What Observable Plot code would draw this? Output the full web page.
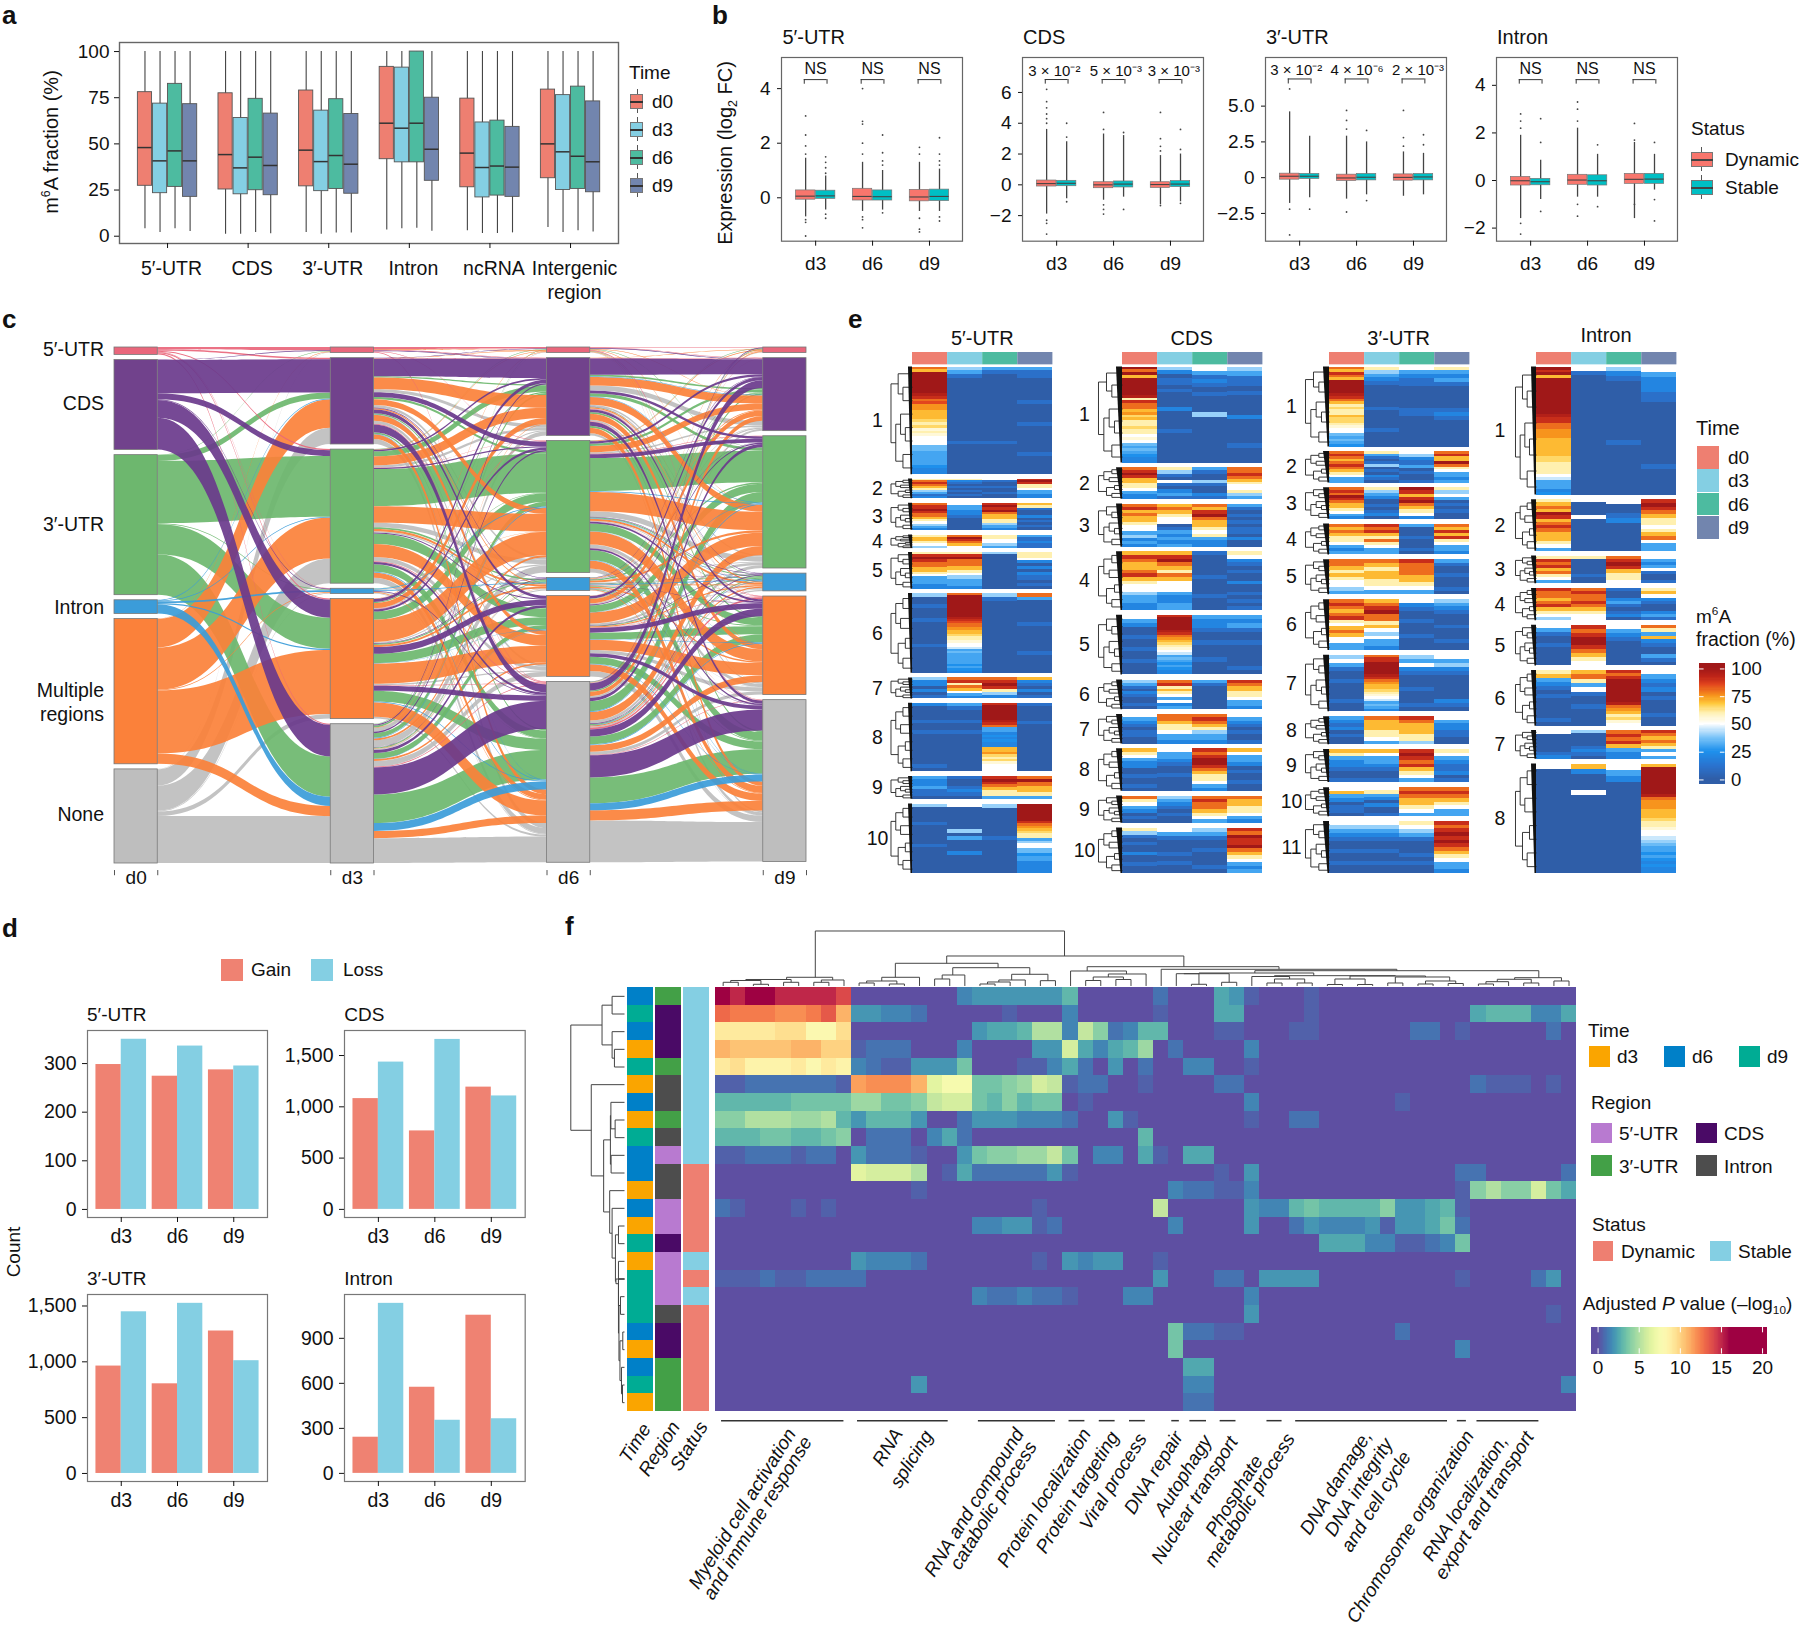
<!DOCTYPE html>
<html><head><meta charset="utf-8">
<script src="https://cdn.jsdelivr.net/npm/d3@7"></script>
<script src="https://cdn.jsdelivr.net/npm/@observablehq/plot@0.6"></script>
<style>
html,body{margin:0;padding:0;background:#fff}
#root{position:relative;width:1800px;height:1628px;overflow:hidden;font-family:"Liberation Sans",Arial,sans-serif;color:#111}
#root svg{position:absolute;background:none;max-width:none}
.t{position:absolute;white-space:nowrap;line-height:1}
sup,sub{font-size:62%;line-height:0}
</style></head><body><div id="root"></div>
<script>
// ---------- panel a: [q1, median, q3, whisker low, whisker high] for d0,d3,d6,d9
const aRegions=["5′-UTR","CDS","3′-UTR","Intron","ncRNA","Intergenic\nregion"];
const aTimes=["d0","d3","d6","d9"];
const a5UTR=[[27.3,48,78,4,100],[23.3,40.8,71.8,2,100],[26.7,46.2,82.5,4,100],[21.3,40.8,71.5,2.5,100]];
const aCDS=[[25.3,44.2,77.4,1,100],[22.7,37,64,1,100],[24.9,42.8,74.4,2,100],[22.2,38.3,66.4,1.3,100]];
const a3UTR=[[27,46.6,78.9,2,100],[24.4,40.4,68,1,100],[25.6,43.7,74.2,1.8,100],[23,39,66.2,1.8,100]];
const aIntron=[[41.7,61.2,91.7,3.4,100],[40,58.5,91.3,4,100],[40,61.2,100,4.3,100],[30,47.1,75,2.7,100]];
const aNcRNA=[[26.5,45,74.5,3,100],[21,37.2,61.6,1.4,100],[22,38,62.6,1.4,100],[21.3,37.4,59.2,1.8,100]];
const aInter=[[31.4,50,79.4,4.7,100],[25,45.7,76.4,2,100],[25.6,43.3,81,2.9,100],[23.8,40.3,73,2.3,100]];
const timeColors={d0:"#EE7F71",d3:"#84CFE3",d6:"#4DBBA0",d9:"#7285AE"};

// ---------- panel b: [q1, median, q3, dense low, dense high, sparse outliers] for d3 Dyn, d3 Sta, d6 Dyn, d6 Sta, d9 Dyn, d9 Sta
const bDays=["d3","d6","d9"];
const b5UTR=[[-.07,.06,.27,-.7,1.45,[1.6,1.9,2.3,3,-.8,-.9,-1.4]],[-.04,.07,.26,-.45,.8,[.9,1.1,1.3,1.5,-.6,-.75]],
 [-.1,.05,.33,-.5,1.3,[1.6,2,2.7,2.8,4,-.7,-.8,-1.1]],[-.1,.04,.27,-.45,1.0,[1.2,1.35,1.65,2.3,-.55]],
 [-.13,.03,.29,-.5,1.3,[1.6,1.85,-.75,-1.15,-1.25]],[-.12,.05,.3,-.5,1.05,[1.2,1.35,1.6,2.2,-.7,-.85]]];
const bCDS=[[-.11,.08,.28,-1.9,3.6,[4,4.3,4.6,5,5.4,6.2,-2.3,-2.5,-3.2]],[-.09,.1,.26,-.9,2.8,[3.1,4,-1.1]],
 [-.22,0,.17,-1,3.3,[3.6,4.7,-1.3,-1.6,-1.9]],[-.17,.05,.22,-.8,3.2,[3.4,-1.6]],
 [-.2,.02,.17,-1.3,1.9,[2.2,2.5,3,4.7,-1.35]],[-.15,.05,.24,-1.1,2,[2.3,3.6,-1.2]]];
const b3UTR=[[-.14,.1,.28,-1.8,4.6,[6.2,-2.2,-4]],[-.09,.1,.26,-1.4,2.9,[-2.2]],
 [-.23,-.02,.21,-1.5,2.9,[3.4,4,4.7,-2.4]],[-.19,.03,.26,-1.2,2.5,[3.3,-1.6]],
 [-.21,.02,.23,-1.3,1.8,[2.2,2.8,4.7]],[-.19,.05,.26,-1.2,1.7,[2.3,3]]];
const bIntron=[[-.21,-.01,.15,-1.6,1.9,[2.2,2.5,2.8,-1.8,-2.25]],[-.2,-.05,.07,-.8,.85,[1.6,2.6,-1.3]],
 [-.18,.02,.24,-.7,2.2,[2.5,3,3.3,-1,-1.5]],[-.21,-.01,.22,-.7,1.1,[1.5,-1.1]],
 [-.14,.05,.28,-1.6,1.6,[1.7,2.4,-1]],[-.14,.06,.28,-.4,1.1,[1.6,-.8,-1.7]]];
const bLabelsCDS=["3 × 10⁻²","5 × 10⁻³","3 × 10⁻³"], bLabels3UTR=["3 × 10⁻²","4 × 10⁻⁶","2 × 10⁻³"], bLabelsNS=["NS","NS","NS"];

// ---------- panel c: node sizes top to bottom for 5'-UTR, CDS, 3'-UTR, Intron, Multiple, None
const cNodesD0=[20,243,378,37,392,254], cNodesD3=[15,233,362,14,324,376], cNodesD6=[15,210,356,35,218,488], cNodesD9=[15,197,357,48,266,437];
const cColors=["#E9667B","#6A3A8C","#6DB76E","#3B9CD9","#FB813A","#BEBEBE"];
const cNodeColors=["#E9667B","#71428C","#6DB76E","#3B9CD9","#FB813A","#BEBEBE"];
// d0 -> d3, rows from, columns to
const cFlow03=[[6,4,3,1,3,3],[1,90,16,2,48,86],[1,16,168,2,82,109],[0,2,2,5,3,25],[1,77,114,2,170,28],[1,44,68,2,12,127]];
// d3 -> d6, one table for each d0 origin
const cFlow36=[
 [[3,1,1,0,0,1],[0,1,0,0,0,2],[0,0,1,0,0,2],[0,0,0,0,0,0],[0,0,1,0,0,1],[0,0,0,0,0,2]],
 [[0,1,0,0,0,0],[1,45,12,2,10,20],[0,4,3,0,3,6],[0,0,0,0,0,2],[0,8,6,2,18,14],[0,3,4,1,8,72]],
 [[0,0,0,0,0,0],[0,3,6,0,3,4],[1,14,100,5,28,20],[0,0,1,0,0,1],[0,3,22,3,25,29],[1,5,12,3,15,76]],
 [[0,0,0,0,0,0],[0,0,0,0,1,1],[0,0,0,0,0,2],[0,0,2,3,0,0],[0,0,0,0,1,2],[0,0,2,0,1,21]],
 [[1,0,0,0,0,0],[1,30,15,3,15,12],[1,24,45,6,35,14],[0,0,1,0,0,2],[1,14,60,6,55,39],[0,1,5,1,5,19]],
 [[0,0,0,0,0,0],[0,8,6,0,8,13],[0,6,12,3,12,15],[0,0,0,0,0,2],[0,2,3,0,4,5],[1,10,18,3,15,66]]];
// d6 -> d9, one table for each d0 origin
const cFlow69=[
 [[1,1,0,0,1,0],[0,1,0,0,1,1],[0,0,1,0,1,1],[0,0,0,0,0,0],[0,0,1,0,1,0],[0,1,0,0,5,1]],
 [[0,1,0,0,0,0],[0,38,6,1,6,9],[0,6,10,1,4,4],[0,1,1,1,1,1],[0,8,3,1,15,12],[1,20,9,2,20,62]],
 [[0,0,1,0,1,0],[0,4,8,1,4,5],[1,6,85,3,20,26],[0,1,4,2,2,2],[0,2,22,2,22,23],[1,4,28,3,22,72]],
 [[0,0,0,0,0,0],[0,1,1,0,0,0],[0,0,2,1,1,1],[0,0,0,2,0,1],[0,0,1,0,1,1],[0,0,2,1,2,20]],
 [[0,1,1,0,1,0],[1,20,18,3,14,13],[1,16,50,5,33,21],[0,2,6,2,4,2],[1,14,36,3,34,22],[1,12,24,3,18,28]],
 [[0,0,0,0,1,0],[0,12,4,1,4,5],[0,4,14,2,9,10],[0,1,2,1,1,1],[0,3,7,1,10,18],[1,5,8,3,9,117]]];
const cDays=["d0","d3","d6","d9"];

// ---------- panel d: gain and loss counts at d3,d6,d9
const dGain5=[298,274,287], dLoss5=[350,336,295];
const dGainC=[1080,765,1192], dLossC=[1436,1657,1106];
const dGain3=[962,803,1276], dLoss3=[1448,1524,1010];
const dGainI=[241,574,1054], dLossI=[1133,354,364];

// ---------- panel e: clusters [top, bottom, d0, d3, d6, d9]; a character is the m6A level in steps of 5, see eLevels, one per row
const eLevels="0A1B2C3D4E5F6G7H8I9Ja";
const e5UTR=[
[128,424,"87aaaaaaaJ98IHH777G6GF6F555DD33333C22","43100000000000000000100000000","31000000000000000000100000000","31100000010000010000000100000"],
[436,490,"6898764312","6210101010","5100100100","9a96653322"],
[503,577,"899a988765432","53322100000","9a9a87766432","76100201010"],
[590,627,"677654","8a9875","665543","311211"],
[638,739,"69a988776533322","69a8887765443332","400000000000000","6652020211010"],
[751,970,"4001000100000010000000","8aaaaaaaaaaJ9I88H77G66F55E3D33333C3C2","4100000000000000000","8300000010000000100000"],
[983,1041,"4220201","89687532","89a9642","7210201"],
[1053,1241,"20000100100000000010","31000100100000000000","9aaaaaaJ98332C2C2277HG6GF555","1000010000000000000"],
[1254,1317,"3223110","1001210","9a987663","8a87763"],
[1330,1521,"4000010000010000000","5000000403000200000","40000000100000000","aaaaaaa98H7G663455DDC3322222"]];
const eCDS=[
[128,392,"a8a7aaaaaaJ69887HG766G665F5D3D3C22","42011010000200000100000000","53121010000400000000000","43110100002000001000"],
[405,492,"89a977665322","6410510231","3100410021","88987655643"],
[505,624,"89787765534232","7876550132323","879a877656322","3101010110200"],
[636,798,"7987789765543322","79a8768755532233","100000100001000","6521010020010101"],
[811,975,"532001001001000","9aaaaaJ98H7G6F5E3D3C3C22","32210010001000","32310010000010"],
[989,1071,"4310210010","8967653523","310000000","9877665332"],
[1084,1165,"532101100","887665332","898764332","532101001"],
[1178,1295,"7653220010010","533210010000","989aa98766532","753320100100"],
[1308,1383,"86532010","43210100","89887653","87766532"],
[1396,1521,"6410100200100","53100010100","43100100010","98a99a8765323"]];
const e3UTR=[
[128,348,"87987aaaaaJ9876G667GG6F55D3D3C","6432100000010000010000","532110000001100000000","632310000001210000000"],
[360,447,"898789876533","631014010210","54211301001","8977a8653323"],
[460,547,"898a98776532","64320010120","a979a87652","6453010100"],
[560,645,"8787665323","9897686533","3000100010","8797965332"],
[658,754,"8876765543","876776653","988877653","3100100010"],
[768,908,"898789657875533","789a8867545332","5210010001000","43210001000100"],
[921,1076,"45310010000100","899aaaaaJ98H77G6F5E3D32","43521000100010","53421000000210"],
[1090,1167,"32120100","87776653","98777664","53221100"],
[1180,1271,"763221001","753321001","9a9897653","653211201"],
[1285,1365,"57320110","563202001","89877653","89876533"],
[1378,1521,"5432100100100","5432100100100","6543100010100","989a9a98765332"]];
const eIntron=[
[128,480,"a9a7aaaaaaaaaaaaJ9988HHH777777GG66665E3332C","51000000000000000000000000000","42100000000000010000000000","5322211000000000000100000"],
[493,635,"6787a97898777653","5000050000000000","50012000000","9a987665678533"],
[648,724,"698978653","600000100","89a97665","532351001"],
[737,826,"9887897654","8988987655","1002310120","6752100231"],
[838,950,"53100100000","989aa98765","5321000000","86372100310"],
[963,1116,"67321010000010","7863510010000","989aaaaaaaaJ8H76GF5","5321201000100"],
[1128,1207,"50000012","400001210","89897322","987876353"],
[1220,1521,"500000000000000000000","720005000000000000000","532000000000000000","7aaaaaaaaaJ8HHH777G66F55E4D33C3C2C22"]];
const eClusterLists=[e5UTR,eCDS,e3UTR,eIntron];
const eTitles=["5′-UTR","CDS","3′-UTR","Intron"];
// cluster dendrogram shapes: [depth, child, child], a number is a leaf slot
const eTreeA=[9,[6,0,[4,1,2]],[7,[5,3,[3,4,5]],[4,6,7]]];
const eTreeB=[9,[7,[4,0,1],[5,2,3]],[6,[3,4,5],[4,6,7]]];
const eColorDomain=[0,12,25,37,50,60,68,75,85,92,100];
const eColorRange=["#2F5EA8","#2A73CF","#1E90EC","#79C3F8","#FFFFFF","#FFF0B0","#FFC93C","#F7941D","#E2461E","#BE2418","#A01818"];

// ---------- panel f: 24 rows by 57 columns, base-36 character = 2 x (-log10 adjusted P)
const fRows=[
"wuwwuuuus0 0000003444 4446000002 0005410001 0000000000 0000000",
"qpppooprm4 4332000001 0003000001 0005500001 0000000000 5666335",
"iiiijjggj0 0000000455 6aa3b82366 0001100011 0000002201 0000020",
"mllllmmkk1 2220003000 044c535690 2000030000 0000000000 0000000",
"ijhhhigih3 2114447000 1135204020 0330010000 0000000000 0000000",
"112222221n ooomdff778 9cb1220010 0002200000 0000000000 2111010",
"6666677779 9778bcc768 6770100000 0000030000 0000010000 0000000",
"88aaa99a64 6664002444 3332004100 0000010022 0000000000 0000000",
"6667766780 2220352000 0000000060 0000000000 0000000000 0000000",
"1122212204 2221004788 99b7033051 0550000000 0000000000 0000000",
"000000000d ccca015222 2241000000 0001040000 0000000002 2000002",
"0000000000 0001000000 0000000000 3221130000 0000000001 8a88c75",
"2100010100 0000000000 010000000b 0000043367 6666844561 0000000",
"0000000000 0000000334 4120000000 3000040024 3334144572 0000000",
"0000000000 0000000000 0000000000 0000000000 5553311237 0000000",
"0000000004 3332000000 0104344001 0000000000 0000000000 0000000",
"1112112222 0000000000 0000000004 0002204444 0000000001 0000240",
"0000000000 0000000322 3221000330 0000030000 0000000000 0000000",
"0000000000 0000000000 0000000000 0000040000 0000000000 0000010",
"0000000000 0000000000 0000000000 7221100000 0000020000 0000000",
"0000000000 0000000000 0000000000 7000000000 0000000003 0000000",
"0000000000 0000000000 0000000000 0550000000 0000000000 0000000",
"0000000000 0004000000 0000000000 0330000000 0000000000 0000003",
"0000000000 0000000000 0000000000 0220000000 0000000000 0000000"];
const fTime=["d6","d9","d6","d3","d9","d3","d6","d3","d9","d6","d6","d3","d6","d3","d9","d3","d9","d9","d9","d6","d3","d6","d9","d3"];
const fRegion=["3′","CDS","CDS","CDS","3′","Intron","Intron","3′","Intron","5′","Intron","Intron","5′","5′","CDS","5′","5′","5′","Intron","CDS","CDS","3′","3′","3′"];
const fStatus=["S","S","S","S","S","S","S","S","S","S","D","D","D","D","D","S","D","S","D","D","D","D","D","D"];
const fTimeColors={d3:"#FAA500",d6:"#0080C8",d9:"#00AC94"};
const fRegionColors={"5′":"#B87AD0","CDS":"#4A0A66","3′":"#43A047","Intron":"#4D4D4D"};
const fStatusColors={D:"#EE7F71",S:"#84CFE3"};
// dendrograms: [height, child, child, optional position]; a number is a column or a row
const fTopA=[8.7,[6.5,[5.5,[3.7,0,1],[1.7,2,3]],[3.7,4,5],4.7],[6,[3.7,6,7],8],6.6];
const fTopB=[22.7,
 [8.7,[5,[3,9,10],[2,11,12]],13,11.9],
 [18.3,[11,[7,14,15],16,15.7],[11.7,[6,[4,[2,17,18],19],20,19.6],[5.3,21,22],20.8],18.7],15.3];
const fTopC1=[15,23,[12,[9,[5.5,24,25],[6.5,26,27]],28,27.2],24.6];
const fTopC4=[13,
 [12.3,[12.29,30,[1.7,31,32],31],[3.7,33,34],32],
 [10.3,[9.5,35,[7,[3,36,37],[3,38,39]],37],[10,[7,[1.5,40,41],[1.5,42,43],42],[9,[3,44,45],[5,[2,46,47],[2.5,48,49],48.6],47],45],39.6],35.7];
const fTopC5=[8.3,[6.7,[4.3,[2,50,51],52],[3,53,54],52.9],[5,55,56],54.5];
const fTopTree=[55,fTopA,[30,fTopB,[19.3,fTopC1,[16.7,29,[15.3,fTopC4,fTopC5,45.1],37.3],31],23.1],26];
const fLeftTree=[53.3,[22.3,[12.3,0,1],[12.3,2,[10,3,4]]],
 [33,5,[20.7,
   [14,[13.5,6,[9.3,7,8]],[13.3,9,10]],
   [14.7,11,[12.3,12,[9,[6,13,14],[8.5,[6,15,[6,16,[5.5,[4,17,18],[4.5,[1.7,19,20],[3,21,[2,22,23]]]]]],[5.9,16,16]]]]]]]];
// term groups: first column, last column
const fGroups=[[.4,8.5],[9.4,15.4],[17.4,22.5],[23.4,24.45],[25.4,26.45],[27.4,28.45],[30.2,30.7],[31.4,32.5],[33.4,34.45],[36.5,37.5],[38.4,48.45],[49.1,49.7],[50.4,54.5]];

// ---------- helpers
const root=document.getElementById("root");
const FONT='"Liberation Sans",Arial,sans-serif';
function T(x,y,html,o={}){
 const {size=19,anchor="start",weight=400,rot=0,italic=false}=o;
 const d=document.createElement("div");d.className="t";d.innerHTML=html;
 const ax=anchor==="end"?"-100%":anchor==="middle"?"-50%":"0";
 const ox=anchor==="end"?"100%":anchor==="middle"?"50%":"0";
 d.style.cssText=`left:${x}px;top:${y}px;font-size:${size}px;font-weight:${weight};font-style:${italic?"italic":"normal"};transform-origin:${ox} 50%;transform:translate(${ax},-50%) rotate(${rot}deg)`;
 root.appendChild(d);
}
function box(x,y,w,h,bg,extra=""){const d=document.createElement("div");d.style.cssText=`position:absolute;left:${x}px;top:${y}px;width:${w}px;height:${h}px;background:${bg};box-sizing:border-box;${extra}`;root.appendChild(d);}
function P(x,y,w,h,opt){
 const {ml=0,mr=0,mt=0,mb=0,...rest}=opt;
 const p=Plot.plot({width:w+ml+mr,height:h+mt+mb,marginLeft:ml,marginRight:mr,marginTop:mt,marginBottom:mb,
   style:{fontFamily:FONT,background:"none",overflow:"visible"},...rest});
 p.style.left=(x-ml)+"px";p.style.top=(y-mt)+"px";root.appendChild(p);return p;
}
function tree(node,pos,segs){
 if(typeof node==="number")return {p:pos(node),h:0};
 const [h,a,b,fixed]=node,A=tree(a,pos,segs),B=tree(b,pos,segs);
 segs.push({p1:A.p,h1:A.h,p2:A.p,h2:h},{p1:B.p,h1:B.h,p2:B.p,h2:h},{p1:A.p,h1:h,p2:B.p,h2:h});
 return {p:fixed===undefined?(A.p+B.p)/2:fixed,h};
}
const grey="#666";

// ---------- panel letters
[["a",2,15],["b",712,15],["c",2,319],["d",2,928],["e",848,319],["f",565,926]].forEach(([s,x,y])=>T(x,y,s,{size:26,weight:700}));

// ---------- panel a
{
 const lists=[a5UTR,aCDS,a3UTR,aIntron,aNcRNA,aInter],off=[-.28,-.093,.093,.28],rows=[];
 lists.forEach((l,g)=>l.forEach((v,t)=>rows.push({c:g+off[t],q1:v[0],m:v[1],q3:v[2],lo:v[3],hi:v[4],f:timeColors[aTimes[t]]})));
 const groups=[0,1,2,3,4,5];
 P(119,42,499,201,{ml:60,mb:60,mt:2,mr:4,
  x:{domain:[-.596,5.595]},y:{domain:[-3.95,104.9]},
  marks:[
   Plot.frame({stroke:grey,strokeWidth:1.4}),
   Plot.axisX({ticks:groups,tickFormat:()=>"",tickSize:5,label:null}),
   Plot.text(groups,{x:d=>d,frameAnchor:"bottom",lineAnchor:"top",dy:15,dx:4,text:d=>aRegions[d],fontSize:19.5,lineHeight:1.22,fill:"#111"}),
   Plot.axisY({ticks:[0,25,50,75,100],tickSize:5,tickPadding:5,fontSize:19,label:null}),
   Plot.ruleX(rows,{x:"c",y1:"lo",y2:"hi",stroke:"#444",strokeWidth:1.1}),
   Plot.rect(rows,{x1:d=>d.c-.088,x2:d=>d.c+.088,y1:"q1",y2:"q3",fill:"f",stroke:"#555",strokeWidth:.9}),
   Plot.ruleY(rows,{y:"m",x1:d=>d.c-.088,x2:d=>d.c+.088,stroke:"#333",strokeWidth:1.5})
  ]});
 T(51,142,"m<sup>6</sup>A fraction (%)",{anchor:"middle",rot:-90,size:20});
 T(629,72,"Time");
 aTimes.forEach((t,i)=>{const y=101+i*28;
  box(636.5,y-12,1,24,"#555");box(630,y-7,13,15,timeColors[t],"border:1px solid #777");box(630,y,13,1.5,"#333");
  T(652,y,t);});
}
// ---------- panel b
{
 const lists=[b5UTR,bCDS,b3UTR,bIntron];
 const frames=[[781.4,"5′-UTR",[-1.59,5.14],[0,2,4],bLabelsNS,[4.74,4.33,4.16],[0,0,0],16],
  [1022,"CDS",[-3.66,8.27],[-2,0,2,4,6],bLabelsCDS,[7.4,6.84,6.54],[-.04,.04,.06],15],
  [1265,"3′-UTR",[-4.44,8.4],[-2.5,0,2.5,5],bLabels3UTR,[7.5,6.9,6.55],[-.06,.01,.08],15],
  [1496,"Intron",[-2.55,5.17],[-2,0,2,4],bLabelsNS,[4.7,4.24,4.05],[0,0,0],16]];
 frames.forEach(([x,title,dom,ticks,labs,[ty,b1,b0],shift,labSize],k)=>{
  const rows=lists[k].map((v,i)=>{const day=Math.floor(i/2),dyn=i%2===0;return {c:day+(dyn?-.176:.176),day,dyn,q1:v[0],m:v[1],q3:v[2],lo:v[3],hi:v[4],out:v[5]};});
  const pts=rows.flatMap(r=>r.out.map(o=>({c:r.c,v:o})));
  const days=[0,1,2];
  P(x,57,181,183.7,{ml:60,mb:50,mt:2,mr:4,
   x:{domain:[-.6,2.58]},y:{domain:dom},
   marks:[
    Plot.frame({stroke:grey,strokeWidth:1.2}),
    Plot.axisX({ticks:days,tickFormat:i=>bDays[i],tickSize:5,tickPadding:10,fontSize:19,label:null}),
    Plot.axisY({ticks,tickFormat:k===2?(d=>d===0?"0":(d<0?"−":"")+Math.abs(d).toFixed(1)):(d=>(d<0?"−":"")+Math.abs(d)),tickSize:4,tickPadding:7,fontSize:19,label:null}),
    Plot.ruleX(rows,{x:"c",y1:"lo",y2:"hi",stroke:"#444",strokeWidth:1.3}),
    Plot.dot(pts,{x:"c",y:"v",r:.9,fill:"#444",stroke:"none"}),
    Plot.rect(rows,{x1:d=>d.c-.17,x2:d=>d.c+.17,y1:"q1",y2:"q3",fill:d=>d.dyn?"#F8766D":"#00BFC4",stroke:"#777",strokeWidth:.7}),
    Plot.ruleY(rows,{y:"m",x1:d=>d.c-.17,x2:d=>d.c+.17,stroke:"#444",strokeWidth:1.1}),
    Plot.ruleY(days,{y:b1,x1:d=>d-.2,x2:d=>d+.2,stroke:"#333",strokeWidth:1}),
    Plot.ruleX(days,{x:d=>d-.2,y1:b0,y2:b1,stroke:"#333",strokeWidth:1}),
    Plot.ruleX(days,{x:d=>d+.2,y1:b0,y2:b1,stroke:"#333",strokeWidth:1}),
    Plot.text(days,{x:d=>d+shift[d],y:ty,text:d=>labs[d],fontSize:labSize,fill:"#111"})
   ]});
  T(x+1,37,title,{size:20});
 });
 T(725,153,"Expression (log<sub>2</sub> FC)",{anchor:"middle",rot:-90,size:20});
 T(1691,128,"Status",{size:19});
 [["Dynamic","#F8766D",159],["Stable","#00BFC4",187]].forEach(([s,c,y])=>{
  box(1701,y-12,1,24,"#555");box(1691,y-7,22,15,c,"border:1px solid #777");box(1691,y,22,1.5,"#444");T(1725,y,s,{size:19});});
}
// ---------- panel c
{
 const nodes=[cNodesD0,cNodesD3,cNodesD6,cNodesD9],gap=13.8,tops=nodes.map(n=>{let y=0;return n.map(v=>{const t=y;y+=v+gap;return t;});});
 const sub=.1,order=[0,1,2,3,4,5];
 const flows=[];
 const add=(col,c,L,R,v)=>{if(v>0)flows.push({col,c,L,R,v,id:flows.length});};
 cFlow03.forEach((row,L)=>row.forEach((v,R)=>add(0,L,L,R,v)));
 cFlow36.forEach((t,c)=>t.forEach((row,L)=>row.forEach((v,R)=>add(1,c,L,R,v))));
 cFlow69.forEach((t,c)=>t.forEach((row,L)=>row.forEach((v,R)=>add(2,c,L,R,v))));
 // stack the ribbons inside each stratum, scaled so that they fill it
 [0,1,2].forEach(col=>{
  const fs=flows.filter(f=>f.col===col);
  order.forEach(n=>{
   const out=fs.filter(f=>f.L===n).sort((a,b)=>a.R-b.R||a.c-b.c);
   const si=d3.sum(out,f=>f.v);let y=tops[col][n];
   out.forEach(f=>{f.a1=y;y+=f.v/si*nodes[col][n];f.a2=y;});
   const inc=fs.filter(f=>f.R===n).sort((a,b)=>a.c-b.c||a.L-b.L);
   const sj=d3.sum(inc,f=>f.v);y=tops[col+1][n];
   inc.forEach(f=>{f.b1=y;y+=f.v/sj*nodes[col+1][n];f.b2=y;});
  });
 });
 const drawOrder=[5,2,4,3,0,1];
 const sorted=drawOrder.flatMap(c=>flows.filter(f=>f.c===c));
 const pts=sorted.flatMap(f=>[{x:f.col+sub,y1:f.a1,y2:f.a2,id:f.id,fill:cColors[f.c]},{x:f.col+1-sub,y1:f.b1,y2:f.b2,id:f.id,fill:cColors[f.c]}]);
 const rects=nodes.flatMap((n,i)=>n.map((v,j)=>({i,y1:tops[i][j],y2:tops[i][j]+v,fill:cNodeColors[j]})));
 const cols=[0,1,2,3],edges=cols.flatMap(i=>[i-sub,i+sub]);
 P(114.4,347,692,516,{mb:34,mt:2,mr:2,ml:2,
  x:{domain:[-sub,3+sub]},y:{domain:[0,1393],reverse:false,range:[2,518],axis:null},
  marks:[
   Plot.area(pts,{x1:"x",x2:"x",y1:"y1",y2:"y2",z:"id",fill:"fill",curve:"bump-x",fillOpacity:.92}),
   Plot.rect(rects,{x1:d=>d.i-sub,x2:d=>d.i+sub,y1:"y1",y2:"y2",fill:"fill",stroke:"#777",strokeWidth:.8}),
   Plot.ruleX(edges,{x:d=>d,y1:1412,y2:1426,stroke:"#555",strokeWidth:1}),
   Plot.text(cols,{x:d=>d,y:1431,text:d=>cDays[d],fontSize:19,fill:"#111"}),
   Plot.axisX({ticks:[],label:null,tickSize:0})
  ]});
 [["5′-UTR",350],["CDS",404],["3′-UTR",525],["Intron",608],["Multiple",691],["regions",715],["None",815]].forEach(([s,y])=>T(104,y,s,{size:19.5,anchor:"end"}));
}
// ---------- panel d
{
 const bars=[[87,1030,180,187,"5′-UTR",dGain5,dLoss5,[-16.6,368],[0,100,200,300]],
  [344.3,1030,180.7,187,"CDS",dGainC,dLossC,[-79,1744],[0,500,1000,1500]],
  [87,1294,180,187,"3′-UTR",dGain3,dLoss3,[-72,1603],[0,500,1000,1500]],
  [344.3,1294,180.7,187,"Intron",dGainI,dLossI,[-54,1192],[0,300,600,900]]];
 bars.forEach(([x,y,w,h,title,g,l,dom,ticks])=>{
  const rows=g.flatMap((v,i)=>[{a:i-.45,b:i,v,f:"#EF8272"},{a:i,b:i+.45,v:l[i],f:"#84CFE3"}]);
  P(x,y,w,h,{ml:70,mb:40,mt:2,mr:2,x:{domain:[-.6,2.6]},y:{domain:dom},
   marks:[
    Plot.frame({stroke:"#777",strokeWidth:1.2}),
    Plot.rect(rows,{x1:"a",x2:"b",y1:0,y2:"v",fill:"f"}),
    Plot.axisX({ticks:[0,1,2],tickFormat:i=>bDays[i],tickSize:5,tickPadding:7,fontSize:19.5,label:null}),
    Plot.axisY({ticks,tickFormat:d3.format(","),tickSize:5,tickPadding:6,fontSize:19.5,label:null})
   ]});
  T(x,y-16.5,title,{size:19});
 });
 T(13,1252,"Count",{anchor:"middle",rot:-90,size:19});
 box(221,958.5,22,22,"#EF8272");T(251,969,"Gain",{size:19});
 box(311,958.5,22,22,"#84CFE3");T(343,969,"Loss",{size:19});
}
// ---------- panel e
{
 const eColor={type:"linear",domain:eColorDomain,range:eColorRange,clamp:true};
 const xs=[912.3,1121.7,1328.7,1536],numX=[-35,-38,-38,-36.5],treeW=[21.5,24,24,21],band=[4,6,6,5];
 const unit=35.1;
 eClusterLists.forEach((cl,k)=>{
  const cells=[],segs=[],taper=[];
  cl.forEach((c,ci)=>{
   const [y0,y1]=c,H=y1-y0;
   [0,1,2,3].forEach(t=>{const s=c[t+2];[...s].forEach((ch,i)=>cells.push({t,v:eLevels.indexOf(ch)*5,a:y0+H*i/s.length,b:y0+H*(i+1)/s.length}));});
   tree(ci%2?eTreeB:eTreeA,i=>y0+H*(i+.5)/8,segs);
   taper.push({c:ci,y:y0,x:-band[k]/unit},{c:ci,y:y1,x:-1.5/unit});
  });
  const seg2=segs.map(s=>({x1:-s.h1/9*treeW[k]/unit,x2:-s.h2/9*treeW[k]/unit,y1:s.p1,y2:s.p2}));
  const ml=50;
  P(xs[k],352,140.4,521,{ml,
   x:{domain:[0,4]},y:{domain:[88,1521],reverse:true,axis:null},color:eColor,
   marks:[
    Plot.rect(aTimes,{x1:(d,i)=>i,x2:(d,i)=>i+1,y1:88,y2:122,fill:d=>timeColors[d]}),
    Plot.rect(cells,{x1:"t",x2:d=>d.t+1,y1:"a",y2:"b",fill:"v",shapeRendering:"crispEdges"}),
    Plot.link(seg2,{x1:"x1",y1:"y1",x2:"x2",y2:"y2",stroke:"#222",strokeWidth:.9}),
    Plot.areaX(taper,{y:"y",x1:"x",x2:0,z:"c",fill:"#111"}),
    Plot.text(cl,{x:numX[k]/unit,y:c=>(c[0]+c[1])/2,text:(c,i)=>String(i+1),fontSize:19.5,fill:"#111"}),
    Plot.axisX({ticks:[],label:null,tickSize:0})
   ]});
  T(xs[k]+70,k===3?335:338,eTitles[k],{anchor:"middle",size:20});
 });
 T(1696,428,"Time",{size:20});
 aTimes.forEach((t,i)=>{box(1697,446+i*23.4,22,22.6,timeColors[t]);T(1728,457+i*23.4,t);});
 T(1696,616,"m<sup>6</sup>A",{size:19});T(1696,640,"fraction (%)",{size:19.5});
 const ramp=d3.range(-4,105);
 P(1698.5,663.6,25.5,119,{mr:44,
  x:{domain:[0,1],axis:null},y:{domain:[-3.2,104]},color:eColor,
  marks:[
   Plot.rect(ramp,{x1:0,x2:1,y1:d=>d,y2:d=>d+1,fill:d=>d,shapeRendering:"crispEdges"}),
   Plot.ruleY([0,25,50,75,100],{x1:0,x2:.18,stroke:"#fff"}),
   Plot.ruleY([0,25,50,75,100],{x1:.82,x2:1,stroke:"#fff"}),
   Plot.axisY({anchor:"right",ticks:[0,25,50,75,100],tickSize:0,tickPadding:6,fontSize:18.5,label:null})
  ]});
}
// ---------- panel f
{
 const pColor={type:"linear",domain:[0,16],scheme:"spectral",reverse:true,clamp:true};
 const cells=fRows.flatMap((r,y)=>[...r.replace(/ /g,"")].map((ch,x)=>({x,y,v:parseInt(ch,36)/2})));
 P(714.8,986.7,861.2,424,{mb:16,
  x:{domain:[0,57],axis:null},y:{domain:[0,24],reverse:true,axis:null},color:pColor,
  marks:[
   Plot.rect(cells,{x1:"x",x2:d=>d.x+1,y1:"y",y2:d=>d.y+1,fill:"v",shapeRendering:"crispEdges"}),
   Plot.ruleY(fGroups,{x1:d=>d[0],x2:d=>d[1],y:24.52,stroke:"#333",strokeWidth:1.5})
  ]});
 // top dendrogram
 const topSegs=[];tree(fTopTree,c=>c+.5,topSegs);
 P(714.8,930,861.2,55.5,{x:{domain:[0,57],axis:null},y:{domain:[0,55.5],axis:null},
  marks:[Plot.link(topSegs,{x1:"p1",x2:"p2",y1:"h1",y2:"h2",stroke:"#444",strokeWidth:1})]});
 // left dendrogram
 const leftSegs=[];tree(fLeftTree,r=>r+.5,leftSegs);
 P(569.8,986.7,54,424,{x:{domain:[53.6,0],axis:null},y:{domain:[0,24],reverse:true,axis:null},
  marks:[Plot.link(leftSegs,{x1:"h1",x2:"h2",y1:"p1",y2:"p2",stroke:"#444",strokeWidth:1})]});
 // annotation columns
 const ann=fTime.flatMap((t,y)=>[{x:0,y,f:fTimeColors[t]},{x:1,y,f:fRegionColors[fRegion[y]]},{x:2,y,f:fStatusColors[fStatus[y]]}]);
 P(625.7,986.7,84,424,{x:{domain:[0,3],axis:null},y:{domain:[0,24],reverse:true,axis:null},
  marks:[Plot.rect(ann,{x1:d=>d.x+.02,x2:d=>d.x+.97,y1:"y",y2:d=>d.y+1,fill:"f",shapeRendering:"crispEdges"})]});
 // rotated labels
 const R=-58;
 [["Time",646,1425],["Region",675,1423],["Status",703,1423],
  ["Myeloid cell activation",791,1430],["and immune response",807,1438],["RNA",898,1430],["splicing",928,1432],
  ["RNA and compound",1019,1430],["catabolic process",1032,1443],["Protein localization",1086,1430],["Protein targeting",1114,1433],
  ["Viral process",1142,1435],["DNA repair",1178,1433],["Autophagy",1207,1437],["Nuclear transport",1233,1438],
  ["Phosphate",1258,1457],["metabolic process",1290,1435],["DNA damage,",1367,1432],["DNA integrity",1388,1440],["and cell cycle",1406,1453],
  ["Chromosome organization",1469,1432],["RNA localization,",1503,1437],["export and transport",1529,1433]
 ].forEach(([s,x,y])=>T(x,y,s,{anchor:"end",rot:R,italic:true,size:19}));
 // legends
 T(1588,1030,"Time",{size:19});
 [["d3",1589,1617],["d6",1664,1692],["d9",1739,1767]].forEach(([s,a,b])=>{box(a,1046,20.5,20.5,fTimeColors[s]);T(b,1056,s,{size:19});});
 T(1591,1102,"Region",{size:19});
 [["5′-UTR","5′",1591,1619,1122.5],["CDS","CDS",1696,1724,1122.5],["3′-UTR","3′",1591,1619,1155],["Intron","Intron",1696,1724,1155]].forEach(([s,c,a,b,y])=>{box(a,y,20.5,20.5,fRegionColors[c]);T(b,y+10.5,s,{size:19});});
 T(1592,1224,"Status",{size:19});
 [["Dynamic","D",1592.7,1621],["Stable","S",1710,1738]].forEach(([s,c,a,b])=>{box(a,1240.7,20.5,20.5,fStatusColors[c]);T(b,1251,s,{size:19});});
 T(1582.7,1303,"Adjusted <i>P</i> value (–log<sub>10</sub>)",{size:19});
 P(1590.7,1326.7,176,26.6,{mb:28,
  x:{domain:[-.8,20.6]},y:{domain:[0,1],axis:null},color:pColor,
  marks:[
   Plot.rect(d3.range(-.8,20.6,.1),{x1:d=>d,x2:d=>d+.1,y1:0,y2:1,fill:d=>d,shapeRendering:"crispEdges"}),
   Plot.ruleX([0,5,10,15,20],{y1:.8,y2:1,stroke:"#fff"}),
   Plot.ruleX([0,5,10,15,20],{y1:0,y2:.2,stroke:"#fff"}),
   Plot.axisX({ticks:[0,5,10,15,20],tickSize:0,tickPadding:6,fontSize:19,label:null})
  ]});
}
</script></body></html>
